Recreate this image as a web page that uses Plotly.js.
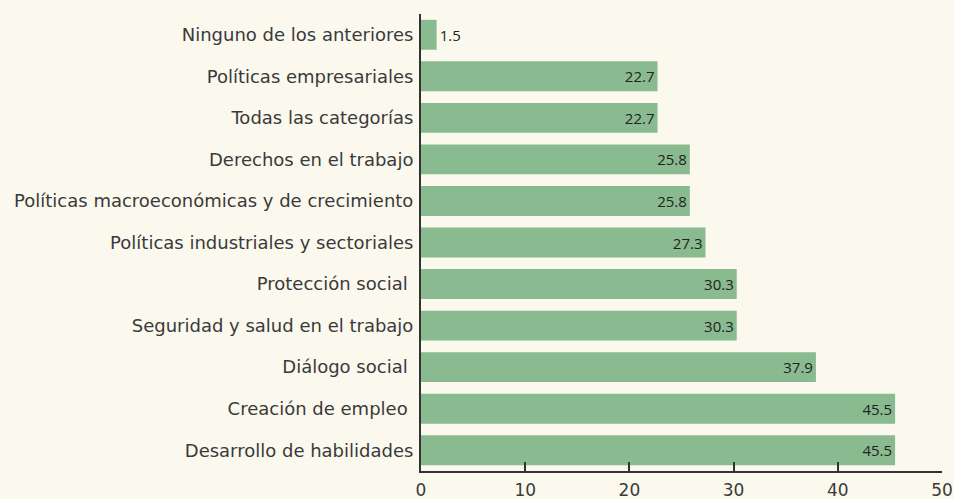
<!DOCTYPE html>
<html>
<head>
<meta charset="utf-8">
<script src="https://cdn.plot.ly/plotly-3.0.1.min.js"></script>
<style>html,body{margin:0;padding:0;background:#fbf8ee;}#chart{width:954px;height:499px;}</style>
</head>
<body>
<div id="chart"></div>
<script>
const categories = [
  "Ninguno de los anteriores",
  "Políticas empresariales",
  "Todas las categorías",
  "Derechos en el trabajo",
  "Políticas macroeconómicas y de crecimiento",
  "Políticas industriales y sectoriales",
  "Protección social ",
  "Seguridad y salud en el trabajo",
  "Diálogo social ",
  "Creación de empleo ",
  "Desarrollo de habilidades"
];
const values = [1.5, 22.7, 22.7, 25.8, 25.8, 27.3, 30.3, 30.3, 37.9, 45.5, 45.5];
const xTicks = [0, 10, 20, 30, 40, 50];

const positions = values.map(v => v < 5 ? "outside" : "inside");

const trace = {
  type: "bar",
  orientation: "h",
  y: categories,
  x: values,
  marker: {color: "#8aba8f"},
  text: values.map(v => v.toFixed(1)),
  textposition: positions,
  insidetextanchor: "end",
  textfont: {family: "Open Sans, sans-serif", size: 15, color: "#222222"},
  constraintext: "none",
  cliponaxis: false,
  hoverinfo: "none"
};

const layout = {
  width: 954,
  height: 499,
  paper_bgcolor: "#fbf8ee",
  plot_bgcolor: "#fbf8ee",
  margin: {l: 421, r: 12, t: 14, b: 28, pad: 0},
  bargap: 0.28,
  showlegend: false,
  xaxis: {
    range: [0, 50],
    tickvals: xTicks,
    ticktext: xTicks.map(String),
    ticks: "inside",
    ticklen: 9,
    tickwidth: 2,
    tickcolor: "#333333",
    showline: true,
    linecolor: "#333333",
    linewidth: 2,
    showgrid: false,
    zeroline: false,
    ticklabelstandoff: 3,
    tickfont: {family: "DejaVu Sans, sans-serif", size: 17, color: "#3a3a3a"},
    fixedrange: true
  },
  yaxis: {
    autorange: "reversed",
    range: [10.5, -0.5],
    showline: true,
    linecolor: "#333333",
    linewidth: 2,
    showgrid: false,
    zeroline: false,
    ticks: "",
    ticklabelstandoff: 2,
    tickfont: {family: "DejaVu Sans, sans-serif", size: 18, color: "#3a3a3a"},
    fixedrange: true
  }
};

Plotly.newPlot("chart", [trace], layout, {displayModeBar: false, staticPlot: true});
</script>
</body>
</html>
